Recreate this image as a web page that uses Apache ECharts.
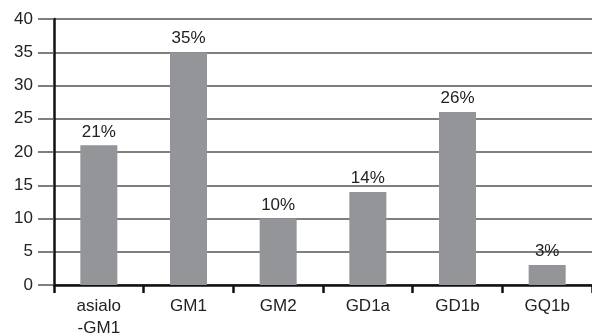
<!DOCTYPE html>
<html>
<head>
<meta charset="utf-8">
<script src="https://cdn.jsdelivr.net/npm/echarts@6/dist/echarts.min.js"></script>
<style>
  html, body { margin: 0; padding: 0; background: #fff; }
  #chart { width: 592px; height: 336px; }
</style>
</head>
<body>
<div id="chart"></div>
<script>
// categories and values
var categories = ['asialo\n-GM1', 'GM1', 'GM2', 'GD1a', 'GD1b', 'GQ1b'];
var values = [21, 35, 10, 14, 26, 3];
var pctLabels = ['21%', '35%', '10%', '14%', '26%', '3%'];

var font = '"Liberation Sans", Arial, sans-serif';

var chart = echarts.init(document.getElementById('chart'));
var option = {
  animation: false,
  grid: { left: 54, right: 0, top: 19, bottom: 51, outerBoundsMode: 'none', containLabel: false },
  xAxis: {
    type: 'category',
    data: categories,
    axisLine: { lineStyle: { color: '#111', width: 2.5 } },
    axisTick: { show: true, length: 8, lineStyle: { color: '#111', width: 2.5 } },
    axisLabel: { color: '#222', fontSize: 17, fontFamily: font, margin: 10, lineHeight: 22 }
  },
  yAxis: {
    type: 'value',
    min: 0, max: 40, interval: 5,
    axisLine: { show: true, lineStyle: { color: '#111', width: 2.5 } },
    axisTick: { show: true, length: 16, lineStyle: { color: '#555', width: 1.5 } },
    axisLabel: { color: '#222', fontSize: 17, fontFamily: font, margin: 21 },
    splitLine: { lineStyle: { color: '#555', width: 1.5 } }
  },
  series: [{
    type: 'bar',
    data: values,
    barWidth: 37,
    itemStyle: { color: '#939598' },
    label: {
      show: true,
      position: 'top',
      distance: 5,
      color: '#222',
      fontSize: 17,
      fontFamily: font,
      formatter: function (p) { return pctLabels[p.dataIndex]; }
    }
  }]
};
chart.setOption(option);
</script>
</body>
</html>
